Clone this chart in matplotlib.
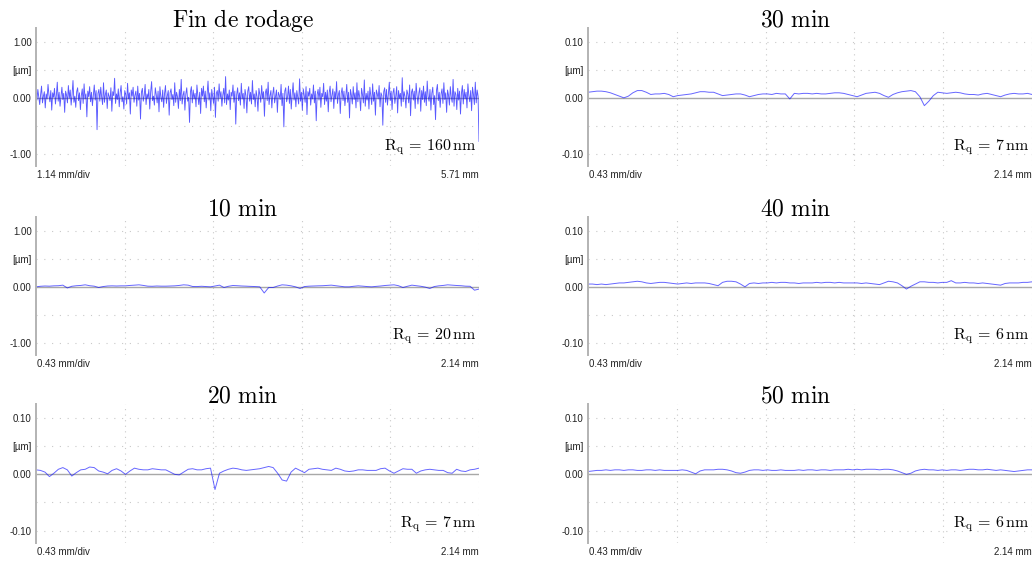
import numpy as np
import matplotlib
matplotlib.use("Agg")
import matplotlib.pyplot as plt

plt.rcParams['mathtext.fontset'] = 'cm'
plt.rcParams['font.family'] = ['Liberation Sans', 'DejaVu Sans']

# ---------------- data ----------------
titles = ["Fin de rodage", "30 min", "10 min", "40 min", "20 min", "50 min"]
rq_labels = ["160", "7", "20", "6", "7", "6"]
x_lengths = [5.71, 2.14, 2.14, 2.14, 2.14, 2.14]
x_div_labels = ["1.14 mm/div", "0.43 mm/div", "0.43 mm/div", "0.43 mm/div", "0.43 mm/div", "0.43 mm/div"]
x_end_labels = ["5.71 mm", "2.14 mm", "2.14 mm", "2.14 mm", "2.14 mm", "2.14 mm"]
y_scales = [1.0, 0.1, 1.0, 0.1, 0.1, 0.1]
y_tick_labels_big = ["1.00", "[µm]", "0.00", "-1.00"]
y_tick_labels_small = ["0.10", "[µm]", "0.00", "-0.10"]

profile_rodage = [
    0.08,-0.04,0.15,0.02,-0.12,0.06,0.21,-0.09,0.03,0.11,-0.18,0.07,-0.02,0.24,0.05,-0.07,0.13,-0.22,0.09,0.01,
    0.17,-0.11,0.04,0.28,-0.06,0.10,-0.15,0.02,0.19,-0.03,0.08,-0.26,0.12,0.05,-0.09,0.22,-0.01,0.14,-0.13,0.06,
    0.31,-0.08,0.03,-0.17,0.11,0.18,-0.05,0.09,-0.21,0.04,0.16,-0.10,0.25,-0.02,0.07,-0.34,0.12,0.02,0.20,-0.07,
    0.10,-0.14,0.05,0.23,-0.04,0.13,-0.57,0.08,0.15,-0.06,0.19,0.01,-0.12,0.27,-0.08,0.06,0.14,-0.19,0.09,0.03,
    -0.05,0.18,-0.24,0.11,0.04,0.35,-0.10,0.07,-0.03,0.16,-0.16,0.09,0.22,-0.07,0.02,-0.20,0.13,0.06,-0.11,0.26,
    -0.02,0.09,-0.29,0.14,0.03,0.19,-0.08,0.05,0.12,-0.15,0.21,-0.04,0.08,-0.38,0.10,0.17,-0.06,0.04,0.24,-0.12,
    0.07,-0.01,0.15,-0.20,0.11,0.29,-0.05,0.03,-0.13,0.18,0.06,-0.09,0.12,-0.25,0.20,0.01,-0.07,0.14,-0.17,0.08,
    0.22,-0.10,0.04,0.13,-0.31,0.09,0.16,-0.03,0.06,-0.14,0.27,-0.08,0.10,0.02,-0.19,0.15,-0.05,0.33,-0.11,0.05,
    0.12,-0.22,0.07,0.18,-0.06,0.01,-0.44,0.11,0.20,-0.09,0.14,-0.02,0.08,-0.16,0.23,0.04,-0.12,0.10,-0.28,0.17,
    0.03,0.21,-0.07,0.12,-0.18,0.06,0.30,-0.04,0.09,-0.23,0.15,0.02,-0.10,0.19,-0.35,0.08,0.13,-0.06,0.25,-0.01,
    0.11,-0.15,0.05,0.17,-0.09,0.38,-0.12,0.07,-0.04,0.14,-0.21,0.10,0.03,0.23,-0.08,0.12,-0.47,0.06,0.18,-0.05,
    0.09,-0.13,0.26,-0.02,0.08,-0.19,0.15,0.04,-0.27,0.12,0.20,-0.06,0.10,-0.11,0.31,-0.03,0.07,-0.16,0.13,0.02,
    -0.24,0.17,0.06,-0.08,0.22,-0.01,0.11,-0.33,0.09,0.16,-0.05,0.28,-0.12,0.04,0.13,-0.18,0.07,0.19,-0.09,0.03,
    0.14,-0.26,0.10,0.05,-0.03,0.24,-0.14,0.08,-0.52,0.12,0.18,-0.07,0.02,0.21,-0.10,0.15,-0.20,0.06,0.27,-0.04,
    0.09,-0.16,0.13,0.01,-0.11,0.34,-0.06,0.10,-0.22,0.16,0.05,-0.08,0.20,-0.30,0.11,0.03,0.17,-0.13,0.07,-0.02,
    0.23,-0.09,0.12,-0.41,0.06,0.15,-0.04,0.19,-0.17,0.08,0.02,0.26,-0.12,0.10,-0.06,0.14,-0.25,0.09,0.21,-0.07,
    0.04,0.16,-0.19,0.11,-0.02,0.29,-0.10,0.06,0.13,-0.28,0.08,0.18,-0.05,0.12,-0.14,0.03,0.24,-0.08,0.10,-0.36,
    0.15,0.05,-0.11,0.20,-0.03,0.09,-0.18,0.27,-0.07,0.13,0.01,-0.23,0.17,0.06,-0.09,0.32,-0.15,0.08,-0.04,0.12,
    -0.20,0.19,0.03,-0.12,0.25,-0.06,0.10,-0.31,0.14,0.07,-0.02,0.22,-0.16,0.09,0.04,-0.49,0.11,0.18,-0.08,0.15,
    -0.13,0.06,0.28,-0.05,0.12,-0.21,0.09,0.17,-0.10,0.03,0.20,-0.27,0.13,-0.01,0.08,-0.15,0.36,-0.07,0.11,0.02,
    -0.18,0.14,0.07,-0.09,0.23,-0.32,0.10,0.16,-0.04,0.12,-0.19,0.26,0.05,-0.11,0.09,0.18,-0.24,0.13,-0.03,0.21,
    -0.08,0.11,-0.14,0.30,0.02,-0.06,0.15,-0.22,0.08,0.19,-0.12,0.04,-0.39,0.13,0.24,-0.05,0.10,-0.17,0.07,0.16,
    -0.10,0.27,-0.03,0.09,-0.26,0.14,0.05,-0.13,0.20,0.01,-0.08,0.33,-0.15,0.11,0.06,-0.21,0.17,-0.04,0.12,-0.29,
    0.08,0.22,-0.11,0.15,-0.02,0.10,-0.18,0.25,0.04,-0.07,0.13,-0.23,0.19,0.06,-0.12,0.28,-0.09,0.14,0.03,-0.78,
]

profile_30 = [
    0.010,0.011,0.012,0.012,0.011,0.009,0.006,0.003,0.000,0.003,
    0.009,0.013,0.013,0.010,0.006,0.007,0.007,0.008,0.006,0.002,
    0.004,0.005,0.006,0.007,0.009,0.011,0.011,0.010,0.010,0.007,
    0.004,0.005,0.006,0.007,0.007,0.005,0.002,0.004,0.006,0.007,
    0.007,0.006,0.008,0.007,0.007,-0.002,0.008,0.007,0.008,0.008,
    0.007,0.008,0.007,0.007,0.008,0.009,0.009,0.008,0.006,0.004,
    0.002,0.005,0.008,0.009,0.010,0.008,0.004,0.001,0.006,0.009,
    0.011,0.012,0.013,0.011,0.002,-0.014,-0.006,0.004,0.010,0.009,
    0.008,0.009,0.010,0.009,0.007,0.006,0.006,0.005,0.007,0.008,
    0.006,0.004,0.002,0.005,0.007,0.008,0.007,0.007,0.008,0.006,
]

profile_10 = [
    0.000,0.010,0.015,0.012,0.018,0.020,0.030,-0.020,0.010,0.020,
    0.025,0.036,0.020,0.012,-0.012,0.005,0.015,0.018,0.015,0.018,
    0.018,0.025,0.030,0.036,0.025,0.012,0.010,0.015,0.012,0.012,
    0.015,0.018,0.025,0.036,0.030,0.006,0.005,0.010,0.005,0.000,
    0.015,0.030,-0.012,0.010,0.024,0.020,0.015,0.012,0.008,0.005,
    0.000,-0.110,-0.012,-0.012,0.015,0.036,0.030,0.018,0.000,-0.030,
    0.005,0.012,0.015,0.018,0.020,0.025,0.030,0.020,0.010,0.000,
    0.000,0.010,0.018,0.012,0.005,0.000,0.008,0.015,0.024,0.030,
    0.036,0.020,-0.012,0.010,0.030,0.020,0.010,-0.005,-0.030,0.005,
    0.018,0.025,0.036,0.030,0.024,0.020,0.012,0.010,-0.060,-0.040,
]

profile_40 = [
    0.005,0.005,0.004,0.005,0.004,0.005,0.006,0.007,0.007,0.008,
    0.009,0.010,0.009,0.007,0.006,0.007,0.008,0.008,0.007,0.006,
    0.005,0.006,0.007,0.006,0.007,0.007,0.007,0.006,0.004,0.002,
    0.008,0.010,0.010,0.009,0.005,0.000,0.006,0.007,0.006,0.007,
    0.007,0.008,0.007,0.008,0.008,0.007,0.007,0.006,0.007,0.007,
    0.007,0.008,0.007,0.008,0.008,0.007,0.008,0.007,0.007,0.007,
    0.007,0.006,0.007,0.006,0.005,0.004,0.007,0.010,0.009,0.007,
    0.002,-0.004,0.001,0.005,0.009,0.009,0.008,0.008,0.007,0.008,
    0.008,0.011,0.007,0.007,0.008,0.007,0.007,0.006,0.007,0.006,
    0.005,0.004,0.003,0.006,0.007,0.007,0.007,0.008,0.008,0.009,
]

profile_20 = [
    0.008,0.007,0.004,-0.004,0.002,0.009,0.012,0.008,-0.003,0.003,
    0.008,0.009,0.013,0.012,0.006,0.004,0.001,0.007,0.010,0.006,
    0.000,0.006,0.011,0.009,0.008,0.008,0.010,0.009,0.008,0.008,
    0.004,0.000,-0.001,0.004,0.009,0.010,0.008,0.008,0.010,0.011,
    -0.027,0.002,0.006,0.009,0.011,0.010,0.008,0.007,0.008,0.009,
    0.010,0.012,0.014,0.012,0.002,-0.010,-0.012,0.004,0.011,0.007,
    0.003,0.009,0.010,0.011,0.009,0.008,0.007,0.011,0.009,0.006,
    0.005,0.006,0.008,0.008,0.007,0.007,0.007,0.010,0.011,0.006,
    0.002,0.006,0.010,0.009,0.009,0.002,0.006,0.008,0.009,0.008,
    0.007,0.007,0.003,0.002,0.009,0.006,0.005,0.008,0.009,0.011,
]

profile_50 = [
    0.005,0.006,0.007,0.007,0.008,0.007,0.008,0.008,0.007,0.008,
    0.008,0.007,0.007,0.008,0.008,0.007,0.008,0.007,0.007,0.007,
    0.007,0.008,0.007,0.004,0.001,0.006,0.008,0.008,0.008,0.009,
    0.009,0.008,0.006,0.003,0.002,0.004,0.007,0.008,0.008,0.007,
    0.008,0.007,0.007,0.008,0.007,0.007,0.007,0.008,0.007,0.008,
    0.008,0.007,0.008,0.008,0.007,0.008,0.008,0.008,0.009,0.008,
    0.009,0.008,0.009,0.009,0.009,0.008,0.009,0.009,0.008,0.006,
    0.003,0.000,0.002,0.006,0.008,0.009,0.008,0.008,0.007,0.008,
    0.007,0.008,0.008,0.007,0.008,0.009,0.009,0.008,0.008,0.009,
    0.008,0.007,0.008,0.007,0.006,0.005,0.006,0.007,0.008,0.008,
]

profiles = [profile_rodage, profile_30, profile_10, profile_40, profile_20, profile_50]

# ---------------- layout ----------------
W, H = 1034, 561
fig = plt.figure(figsize=(W / 100, H / 100), dpi=100)

col_x = [(36, 443), (588, 444)]
row_y = [(28, 138), (217, 138), (404, 139)]

grid_col = '#c9c9c9'
tick_fs = 7

for k in range(6):
    r, c = divmod(k, 2)
    x0, w = col_x[c]
    y0, h = row_y[r]
    ax = fig.add_axes([x0 / W, 1 - (y0 + h) / H, w / W, h / H])
    s = y_scales[k]
    xl = x_lengths[k]
    ax.set_xlim(0, xl)
    ax.set_ylim(-1.22 * s, 1.25 * s)

    # grids
    for gy in [-1.0, -0.5, 0.5, 1.0]:
        ax.axhline(gy * s, color=grid_col, lw=0.8, ls=(0, (1, 6)), zorder=0)
    for gx in np.linspace(0, xl, 6)[1:]:
        ax.axvline(gx, color=grid_col, lw=0.8, ls=(0, (1, 4)), zorder=0)
    ax.axhline(0, color='#a8a8a8', lw=1.0, zorder=1)

    y = np.array(profiles[k])
    x = np.linspace(0, xl, len(y))
    if k == 0:
        ax.plot(x, y, color='#0000ff', lw=0.65, alpha=0.65, zorder=2)
    else:
        ax.plot(x, y, color='#0000ff', lw=0.7, alpha=0.6, zorder=2)

    for sp in ['top', 'right', 'bottom']:
        ax.spines[sp].set_visible(False)
    ax.spines['left'].set_color('#b3b3b3')
    ax.spines['left'].set_linewidth(1.4)
    ax.set_xticks([])
    labels = y_tick_labels_big if s == 1.0 else y_tick_labels_small
    ax.set_yticks([1.0 * s, 0.5 * s, 0.0, -1.0 * s])
    ax.set_yticklabels(labels, fontsize=tick_fs, color='#222222')
    ax.tick_params(axis='y', length=0, pad=3)

    ax.text(0.467, 1.0 + 1.5 / h, r'$\mathrm{' + titles[k].replace(' ', r'\ ') + '}$',
            transform=ax.transAxes, ha='center', va='baseline', fontsize=17)
    ax.text(0.994, 16 / h, r'$\mathrm{R_q}\,=\,' + rq_labels[k] + r'\,\mathrm{nm}$',
            transform=ax.transAxes, ha='right', va='baseline', fontsize=11.5)
    ax.text(0.003, -9 / h, x_div_labels[k], transform=ax.transAxes,
            ha='left', va='center', fontsize=tick_fs, color='#222222')
    ax.text(1.0, -9 / h, x_end_labels[k], transform=ax.transAxes,
            ha='right', va='center', fontsize=tick_fs, color='#222222')

fig.savefig('out.png', dpi=100)
